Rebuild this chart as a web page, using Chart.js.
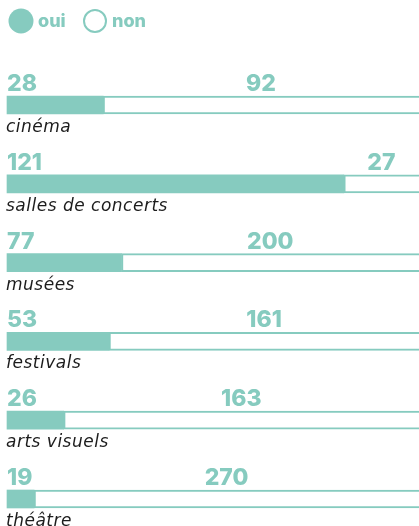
<!DOCTYPE html>
<html lang="fr">
<head>
<meta charset="utf-8">
<title>oui / non</title>
<script src="https://cdn.jsdelivr.net/npm/chart.js@4.4.1/dist/chart.umd.min.js"></script>
<style>
    html, body { margin: 0; padding: 0; background: #fff; }
    .chart-box { position: relative; width: 419px; height: 526px; }
</style>
</head>
<body>
<div class="chart-box">
    <canvas id="visitChart"></canvas>
</div>
<script>
const categories = ['cinéma', 'salles de concerts', 'musées', 'festivals', 'arts visuels', 'théâtre'];
const ouiValues = [28, 121, 77, 53, 26, 19];
const nonValues = [92, 27, 200, 161, 163, 270];
const legendLabels = ['oui', 'non'];

const TEAL = '#86cbbf';
const DARK = '#1c1c1c';

// each bar is split into the share of "oui" and "non" answers
const ouiShare = ouiValues.map((v, i) => v / (v + nonValues[i]) * 100);
const nonShare = nonValues.map((v, i) => v / (ouiValues[i] + v) * 100);

// legend, value labels and category names
const labelsPlugin = {
    id: 'barLabels',
    afterDatasetsDraw(chart) {
        const ctx = chart.ctx;
        const area = chart.chartArea;
        const ouiMeta = chart.getDatasetMeta(0);
        const nonMeta = chart.getDatasetMeta(1);

        ctx.save();

        // legend
        ctx.fillStyle = TEAL;
        ctx.beginPath();
        ctx.arc(21, 21, 12.5, 0, Math.PI * 2);
        ctx.fill();
        ctx.strokeStyle = TEAL;
        ctx.lineWidth = 2;
        ctx.beginPath();
        ctx.arc(95, 21, 11, 0, Math.PI * 2);
        ctx.stroke();
        ctx.font = '800 18px Inter';
        ctx.textBaseline = 'alphabetic';
        ctx.textAlign = 'left';
        ctx.fillText(legendLabels[0], 38, 27);
        ctx.fillText(legendLabels[1], 112, 27);

        categories.forEach((cat, i) => {
            const oui = ouiMeta.data[i].getProps(['x', 'y', 'base'], true);
            const non = nonMeta.data[i].getProps(['x', 'y', 'base'], true);

            ctx.fillStyle = TEAL;
            ctx.font = '800 23px Inter';
            ctx.letterSpacing = '0px';
            ctx.textAlign = 'left';
            ctx.fillText(ouiValues[i], area.left, oui.y - 14);
            ctx.textAlign = 'center';
            ctx.fillText(nonValues[i], (non.base + non.x) / 2, non.y - 14);

            ctx.fillStyle = DARK;
            ctx.font = 'italic 400 17px "DejaVu Sans"';
            ctx.letterSpacing = '0.5px';
            ctx.textAlign = 'left';
            ctx.fillText(cat, area.left - 1, oui.y + 27);
        });

        ctx.restore();
    }
};

const ctx = document.getElementById('visitChart').getContext('2d');
new Chart(ctx, {
    type: 'bar',
    data: {
        labels: categories,
        datasets: [{
            label: legendLabels[0],
            data: ouiShare,
            backgroundColor: TEAL,
            borderWidth: 0,
            barThickness: 18
        }, {
            label: legendLabels[1],
            data: nonShare,
            backgroundColor: '#ffffff',
            borderColor: TEAL,
            borderWidth: { top: 2, bottom: 2, left: 2, right: 0 },
            borderSkipped: false,
            barThickness: 18
        }]
    },
    options: {
        indexAxis: 'y',
        responsive: true,
        maintainAspectRatio: false,
        animation: false,
        layout: {
            padding: { top: 105, bottom: 27, left: 7, right: 0 }
        },
        plugins: {
            legend: { display: false },
            tooltip: { enabled: false }
        },
        datasets: {
            bar: { clip: false }
        },
        scales: {
            x: {
                stacked: true,
                min: 0,
                max: 100,
                display: false
            },
            y: {
                stacked: true,
                offset: false,
                display: false
            }
        }
    },
    plugins: [labelsPlugin]
});
</script>
</body>
</html>
